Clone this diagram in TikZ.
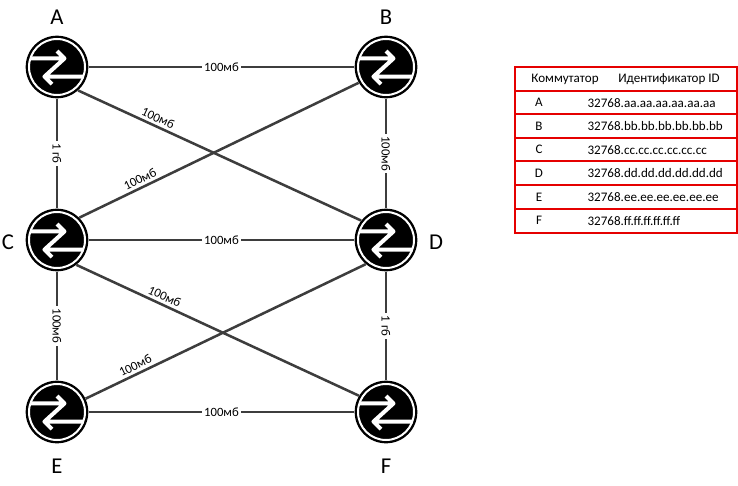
\documentclass[tikz,border=0pt]{standalone}
\usepackage{fontspec}
\setmainfont{Carlito}
\usepackage{tikz}
\usetikzlibrary{positioning}

\tikzset{
  sw/.style={circle, fill=black, minimum size=47pt, inner sep=0pt},
  swicon/.pic={
    \draw[white, line width=1.5pt] (0,0) circle (21pt);
    \draw[white, line width=3pt, line join=round]
      (-20pt,6.4pt) -- (5.6pt,6.4pt)
      (0pt,12pt) -- (5.6pt,6.4pt) -- (-9.4pt,-7.2pt) -- (-3.8pt,-12.8pt)
      (-9.4pt,-7.2pt) -- (20pt,-7.2pt);
  },
  link/.style={draw=black!76, line width=1.9pt},
  lbl/.style={font=\fontsize{9.5}{11}\selectfont, inner sep=2pt},
  letter/.style={font=\fontsize{17}{20}\selectfont, inner sep=0pt},
  tab/.style={font=\fontsize{9.8}{12}\selectfont, inner sep=1pt},
  tabline/.style={draw=red!90!black, line width=1pt}
}

\begin{document}
\begin{tikzpicture}[x=0.75pt, y=-0.75pt]
\useasboundingbox (0,0) rectangle (738,485);

% switches
\node[sw] (A) at (57,67) {};
\node[sw] (B) at (386,67) {};
\node[sw] (C) at (57,240) {};
\node[sw] (D) at (386,240) {};
\node[sw] (E) at (57,412) {};
\node[sw] (F) at (386,412) {};
\foreach \n in {A,B,C,D,E,F}{
\pic at (\n) {swicon};
}

\node[letter] (nA) at (57,17) {A};
\node[letter] (nB) at (386,17) {B};
\node[letter] (nC) at (8,242) {C};
\node[letter] (nD) at (436,242) {D};
\node[letter] (nE) at (57,466) {E};
\node[letter] (nF) at (386,466) {F};

% links
\draw[link] (A) -- node[lbl, fill=white] (ab) {100мб} (B);
\draw[link] (C) -- node[lbl, fill=white] (cd) {100мб} (D);
\draw[link] (E) -- node[lbl, fill=white] (ef) {100мб} (F);
\draw[link] (A) -- node[lbl, fill=white, rotate=-90] (ac) {1 гб} (C);
\draw[link] (B) -- node[lbl, fill=white, rotate=-90] (bd) {100мб} (D);
\draw[link] (C) -- node[lbl, fill=white, rotate=-90] (ce) {100мб} (E);
\draw[link] (D) -- node[lbl, fill=white, rotate=-90] (df) {1 гб} (F);
\draw[link] (A.-48) -- node[lbl, sloped, above, pos=0.27] (ad) {100мб} (D.142);
\draw[link] (C.45) -- node[lbl, sloped, above, pos=0.23] (cb) {100мб} (B.210);
\draw[link] (C.-52) -- node[lbl, sloped, above, pos=0.30] (cf) {100мб} (F.149);
\draw[link] (E.25) -- node[lbl, sloped, above, pos=0.19] (ed) {100мб} (D.230);

% table
\draw[tabline] (515,67) rectangle (737,233);
\foreach \y in {91,114,138,161,185,209}{
\draw[tabline] (515,\y) -- (737,\y);
}
\node[tab] (h1) at (565,79) {Коммутатор};
\node[tab] (h2) at (669,79) {Идентификатор ID};
\foreach \l/\pre [count=\i] in {A/aa,B/bb,C/cc,D/dd,E/ee,F/ff}{
\node[tab] (r\i) at (539,{79+23.6*\i}) {\l};
\node[tab, anchor=west] (id\i) at (586,{79+23.6*\i}) {32768.\pre.\pre.\pre.\pre.\pre.\pre};
}
\end{tikzpicture}
\end{document}
